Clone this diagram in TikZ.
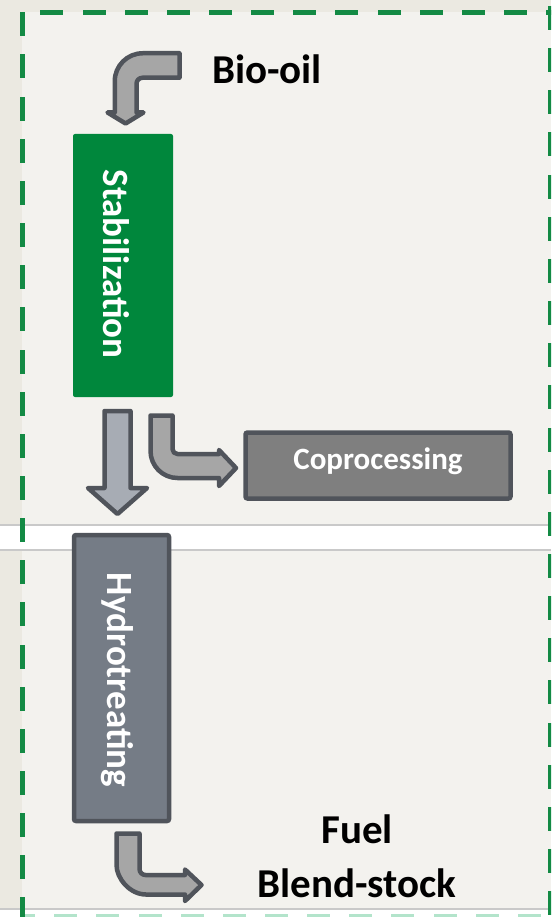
\documentclass[tikz,border=0pt]{standalone}
\usepackage{fontspec}
\setmainfont{Carlito}

\definecolor{fondo}{HTML}{EBE9E1}
\definecolor{panel}{HTML}{F3F2EE}
\definecolor{verde}{HTML}{138A44}
\definecolor{verdeclaro}{HTML}{B3E4CB}
\definecolor{cajaverde}{HTML}{00873C}
\definecolor{borde}{HTML}{50545B}
\definecolor{gris}{HTML}{A6A6A6}
\definecolor{grisazul}{HTML}{A7ACB4}
\definecolor{grisproc}{HTML}{7F7F7F}
\definecolor{grishidro}{HTML}{757C86}
\definecolor{linea}{HTML}{C9C9C9}

\tikzset{
  caja/.style={rectangle, rounded corners=2pt, inner sep=0pt},
  textocaja/.style={text=white, inner sep=0pt, font=\bfseries\fontsize{37}{44}\selectfont},
  flecha/.style={draw=borde, line width=4.5pt, line join=round, fill=gris},
  etiqueta/.style={inner sep=0pt, align=center, font=\bfseries\fontsize{41}{54}\selectfont}
}

\begin{document}
\begin{tikzpicture}[x=1pt,y=-1pt]
  \useasboundingbox (0,0) rectangle (551,917);
  \clip (0,0) rectangle (551,917);

  % Fondo
  \fill[fondo] (0,0) rectangle (551,917);
  \fill[panel] (22,12) rectangle (551,909);
  \fill[white] (0,525) rectangle (551,550);
  \fill[white] (0,909) rectangle (551,917);
  \draw[linea, line width=2pt] (0,525) -- (551,525) (0,550) -- (551,550) (0,909) -- (551,909);

  % Borde discontinuo
  \begin{scope}
    \clip (22,900) rectangle (551,917);
    \foreach \k in {0,...,12}
      \fill[verdeclaro] ({12.1+42.15*\k},913.5) rectangle ({35.1+42.15*\k},918);
  \end{scope}
  \foreach \k in {0,...,12}
    \fill[verde] ({40.4+42.15*\k},9.75) rectangle ({63.4+42.15*\k},14.75);
  \foreach \k in {0,...,21} {
    \fill[verde] (19.5,{12.3+42.15*\k}) rectangle (24.5,{36.3+42.15*\k});
    \fill[verde] (548.2,{6+42.15*\k}) rectangle (553,{30+42.15*\k});
  }

  % Cajas de proceso
  \node[caja, fill=cajaverde, minimum width=100pt, minimum height=263pt] (stab) at (123,265.5) {};
  \node[textocaja, rotate=-90, anchor=base] (stabtxt) at (103.5,264) {Stabilization};

  \node[caja, fill=grishidro, draw=borde, line width=4.5pt, minimum width=95pt, minimum height=286pt] (hydro) at (121.5,678) {};
  \node[textocaja, rotate=-90, anchor=base] (hydrotxt) at (107.5,680) {Hydrotreating};

  \node[caja, fill=grisproc, draw=borde, line width=4.5pt, minimum width=265pt, minimum height=66pt,
        text=white, font=\bfseries\fontsize{31}{37}\selectfont, text height=20pt, text depth=13pt] (copro) at (378,465.5) {Coprocessing};

  % Flechas
  \draw[flecha] (179.5,53.25) -- (179.5,77.75) -- (142.5,77.75)
    .. controls (139.2,77.75) and (136.5,80.4) .. (136.5,83.75) -- (136.5,112.5) -- (143.5,112.5)
    -- (125.6,123.5) -- (107.5,112.5) -- (114.75,112.5) -- (114.75,81.25)
    .. controls (114.75,65.8) and (127.3,53.25) .. (142.75,53.25) -- cycle;

  \draw[flecha, fill=grisazul] (104.5,411) -- (130.5,411) -- (130.5,488) -- (147,488)
    -- (117.5,514) -- (88,488) -- (104.5,488) -- cycle;

  \draw[flecha] (150.5,415.5) -- (172.5,415.5) -- (172.5,449)
    .. controls (172.5,451.8) and (174.7,454) .. (177.5,454) -- (219,454) -- (219,450)
    -- (236,468) -- (219,486) -- (219,478) -- (177.5,478)
    .. controls (162.6,478) and (150.5,465.9) .. (150.5,451) -- cycle;

  \draw[flecha] (116.5,833.5) -- (139.5,833.5) -- (139.5,869)
    .. controls (139.5,872.3) and (142.2,875) .. (145.5,875) -- (185,875) -- (185,869.5)
    -- (201.5,885) -- (185,901) -- (185,894.5) -- (146,894.5)
    .. controls (129.7,894.5) and (116.5,878.2) .. (116.5,865) -- cycle;

  % Textos
  \node[etiqueta, anchor=base] (bio) at (267,84) {Bio-oil};
  \node[etiqueta, anchor=base] (fuel) at (357,897) {Fuel\\Blend-stock};
\end{tikzpicture}
\end{document}
